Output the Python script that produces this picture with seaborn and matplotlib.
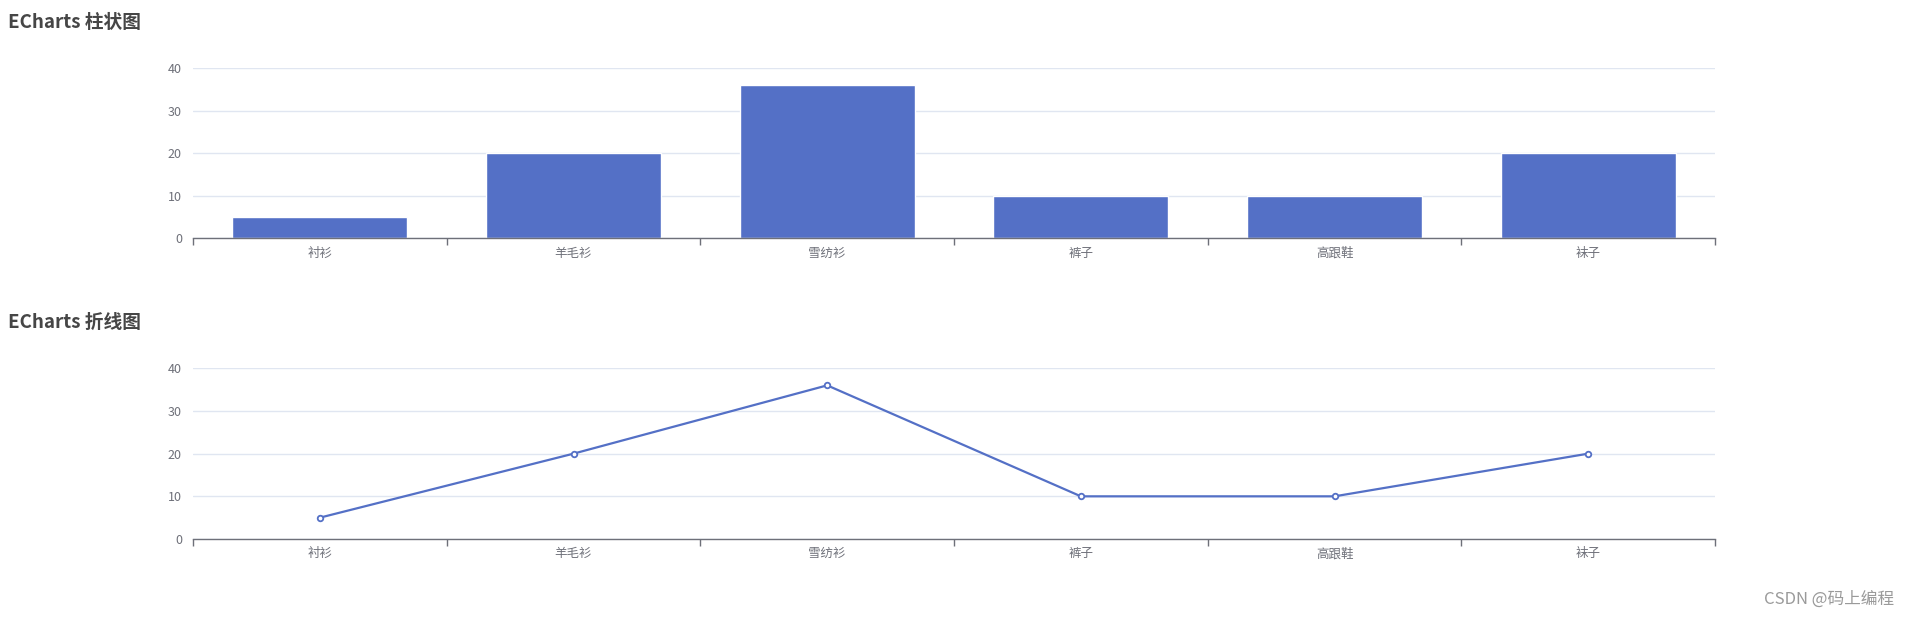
import matplotlib
matplotlib.use('Agg')
import matplotlib.pyplot as plt
import seaborn as sns
import pandas as pd

categories = ['衬衫', '羊毛衫', '雪纺衫', '裤子', '高跟鞋', '袜子']
sales = [5, 20, 36, 10, 10, 20]
yticks = [0, 10, 20, 30, 40]

df = pd.DataFrame({'category': categories, 'sales': sales})

sns.set_theme(style='white')
plt.rcParams['font.family'] = ['Noto Sans CJK SC', 'DejaVu Sans']

blue = '#5470c6'
axis_c = '#6e7079'
grid_c = '#e0e6f1'

fig = plt.figure(figsize=(19.09, 6.17), dpi=100)
ax1 = fig.add_axes([0.1011, 0.6138, 0.7973, 0.2755])
ax2 = fig.add_axes([0.1011, 0.1264, 0.7973, 0.2767])

sns.barplot(data=df, x='category', y='sales', color=blue, saturation=1,
            width=0.69, ax=ax1)
sns.lineplot(data=df, x='category', y='sales', color=blue, linewidth=1.6,
             marker='o', markersize=4, markerfacecolor='white',
             markeredgecolor=blue, markeredgewidth=1.3, ax=ax2)

for ax in (ax1, ax2):
    ax.set_xlim(-0.5, len(categories) - 0.5)
    ax.set_ylim(0, 40)
    ax.set_yticks(yticks)
    ax.set_xlabel('')
    ax.set_ylabel('')
    ax.set_axisbelow(True)
    ax.yaxis.grid(True, color=grid_c, linewidth=1)
    ax.xaxis.grid(False)
    for s in ['top', 'right', 'left']:
        ax.spines[s].set_visible(False)
    ax.spines['bottom'].set_color(axis_c)
    ax.spines['bottom'].set_linewidth(1)
    ax.set_xticks(range(len(categories)))
    ax.set_xticklabels(categories)
    ax.tick_params(axis='x', length=0, colors=axis_c, labelsize=9, pad=6)
    ax.tick_params(axis='y', length=0, colors=axis_c, labelsize=9, pad=8)
    # boundary ticks between categories
    ax.set_xticks([i - 0.5 for i in range(len(categories) + 1)], minor=True)
    ax.tick_params(axis='x', which='minor', bottom=True, length=5, width=1,
                   color=axis_c, direction='out')

fig.text(0.004, 0.964, 'ECharts 柱状图', fontsize=13.5, color='#464646',
         fontweight='bold', va='center', ha='left')
fig.text(0.004, 0.478, 'ECharts 折线图', fontsize=13.5, color='#464646',
         fontweight='bold', va='center', ha='left')
fig.text(0.992, 0.029, 'CSDN @码上编程', fontsize=12, color='#9a9a9a',
         va='center', ha='right')

fig.savefig('out.png', dpi=100, facecolor='white')
